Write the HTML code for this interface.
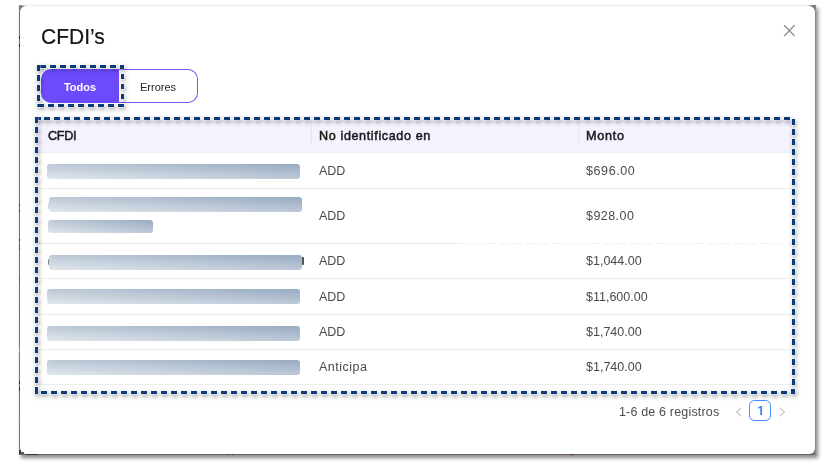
<!DOCTYPE html>
<html><head><meta charset="utf-8">
<style>
*{margin:0;padding:0;box-sizing:border-box}
html,body{width:824px;height:464px;background:#fff;overflow:hidden;position:relative;font-family:"Liberation Sans",Arial,sans-serif}
.abs{position:absolute}
.frame{position:absolute;left:19px;top:5px;width:797px;height:450px;background:#7a7a7a;border-left:1px solid #777;border-right:1px solid #888;border-bottom:1px solid #6b6667;box-shadow:2px 3px 4px rgba(0,0,0,.48)}
.topline{position:absolute;left:19px;top:5px;width:797px;height:1px;background:linear-gradient(90deg,#7a7a7a 0,#9a9a9a 2px,#d5d5d5 5px,#ececec 8px,#ececec 788px,#b0b0b0 791px,#808080 794px,#888 797px)}
.modal{position:absolute;left:20px;top:6px;width:795px;height:448px;background:#fff;border-radius:6px}
.title{position:absolute;left:41px;top:24px;font-size:21px;line-height:24px;color:#151515;-webkit-text-stroke:.2px #151515;white-space:nowrap;transform:scaleY(1.07);transform-origin:0 5px}
.close{position:absolute;left:783px;top:24px;width:13px;height:13px}
.tog{position:absolute;top:69px;height:34px;font-size:11px;line-height:36px;text-align:center}
.todos{left:41px;width:78px;background:#6d4bfd;border-radius:10px 0 0 10px;color:#fff;font-weight:700}
.errores{left:117px;width:81px;border:1.5px solid #7454fd;border-left:none;border-radius:0 10px 10px 0;color:#262626;line-height:34px;padding-left:2px}
.thead{position:absolute;left:38px;top:120px;width:754px;height:32px;background:#f3f2fd}
.th{position:absolute;top:129px;font-size:12.6px;font-weight:400;color:#1a1a1a;-webkit-text-stroke:.5px #1a1a1a;line-height:14px;white-space:nowrap}
.sep{position:absolute;top:124px;width:1px;height:20px;background:#e6e5f0}
.rl{position:absolute;left:38px;width:754px;height:1px;background:#ececec}
.bar{position:absolute;height:15px;border-radius:3px;background:linear-gradient(to top right,#e0e6ec 0%,#bdc9d7 50%,#97abc1 100%)}
.td{position:absolute;font-size:12.5px;color:#4a4a4a;line-height:14px;white-space:nowrap}
.pg{position:absolute;top:405px;font-size:12.5px;color:#4d4d4d;line-height:14px;white-space:nowrap}
.dash{position:absolute;left:0;top:0;filter:drop-shadow(1.5px 2px 2px rgba(0,0,0,.42))}
</style></head><body>
<div class="frame"></div>
<div class="topline"></div>
<div class="modal"></div>
<div class="abs" style="left:48px;top:203px;width:1px;height:6px;background:#d6d6d6"></div>
<div class="abs" style="left:47.5px;top:259px;width:1.5px;height:6px;background:#8a8a8a;border-radius:1px 0 0 1px"></div>
<div class="abs" style="left:302px;top:257px;width:1.6px;height:8px;background:#555;border-radius:0 1px 1px 0"></div>
<div class="abs" style="left:19px;top:36px;width:1px;height:3px;background:#222"></div>
<div class="abs" style="left:19px;top:44px;width:1px;height:3px;background:#222"></div>
<div class="abs" style="left:19px;top:204px;width:1px;height:2px;background:#333"></div>
<div class="abs" style="left:19px;top:210px;width:1px;height:2px;background:#333"></div>
<div class="abs" style="left:19px;top:239px;width:1px;height:2px;background:#333"></div>
<div class="abs" style="left:19px;top:245px;width:1px;height:2px;background:#2a5a6a"></div>
<div class="abs" style="left:19px;top:248px;width:1px;height:2px;background:#6a4a2a"></div>
<div class="abs" style="left:571px;top:454px;width:3px;height:1px;background:#8a1a1a"></div>
<div class="abs" style="left:19px;top:450px;width:2px;height:4px;background:#2b3f66"></div>
<div class="abs" style="left:21px;top:452px;width:3px;height:2px;background:#7a5a3a"></div>
<div class="abs" style="left:26px;top:454px;width:12px;height:1px;background:#3a2f3f"></div>
<div class="abs" style="left:19px;top:277px;width:1px;height:5px;background:#8a5a2a"></div>
<div class="abs" style="left:19px;top:308px;width:1px;height:9px;background:#4a78b0"></div>
<div class="abs" style="left:19px;top:347px;width:1px;height:6px;background:#7aa0c8"></div>
<div class="abs" style="left:19px;top:381px;width:1px;height:3px;background:#2a2a2a"></div>
<div class="abs" style="left:19px;top:384px;width:1px;height:3px;background:#a06a2a"></div>
<div class="abs" style="left:19px;top:387px;width:1px;height:4px;background:#2a2a5a"></div>
<div class="abs" style="left:19px;top:417px;width:1px;height:3px;background:#b07030"></div>
<div class="abs" style="left:227px;top:454px;width:2px;height:1px;background:#1f3f8a"></div>
<div class="abs" style="left:232px;top:454px;width:2px;height:1px;background:#8a1f3a"></div>
<div class="title">CFDI’s</div>
<svg class="close" viewBox="0 0 13 13"><path d="M1.2 1.2L11.6 12M11.6 1.2L1.2 12" stroke="#909090" stroke-width="1.35" fill="none"/></svg>

<div class="tog todos">Todos</div>
<div class="tog errores">Errores</div>

<div class="thead"></div>
<div class="th" style="left:48px;letter-spacing:-.3px">CFDI</div>
<div class="sep" style="left:311px"></div>
<div class="th" style="left:319px;letter-spacing:.62px">No identificado en</div>
<div class="sep" style="left:578px"></div>
<div class="th" style="left:586px;letter-spacing:.75px">Monto</div>

<div class="rl" style="top:152px;background:#eeeef2"></div>
<div class="rl" style="top:188px"></div>
<div class="rl" style="top:243px;width:423px"></div>
<div class="rl" style="top:243px;left:461px;width:331px;background:repeating-linear-gradient(90deg,#f2f2f2 0 9px,transparent 9px 13px)"></div>
<div class="rl" style="top:278px"></div>
<div class="rl" style="top:314px"></div>
<div class="rl" style="top:349px"></div>
<div class="rl" style="top:384px"></div>

<div class="bar" style="left:47px;top:164px;width:253px"></div>
<div class="bar" style="left:49px;top:197px;width:253px"></div>
<div class="bar" style="left:48px;top:220px;width:105px;height:13px"></div>
<div class="bar" style="left:49px;top:255px;width:253px"></div>
<div class="bar" style="left:47px;top:289px;width:253px"></div>
<div class="bar" style="left:47px;top:326px;width:253px"></div>
<div class="bar" style="left:47px;top:360px;width:253px"></div>

<div class="td" style="left:319px;top:164px">ADD</div>
<div class="td" style="left:319px;top:209px">ADD</div>
<div class="td" style="left:319px;top:254px">ADD</div>
<div class="td" style="left:319px;top:290px">ADD</div>
<div class="td" style="left:319px;top:325px">ADD</div>
<div class="td" style="left:319px;top:360px;letter-spacing:.5px">Anticipa</div>

<div class="td" style="left:586px;top:164px;letter-spacing:.6px">$696.00</div>
<div class="td" style="left:586px;top:209px;letter-spacing:.45px">$928.00</div>
<div class="td" style="left:586px;top:254px">$1,044.00</div>
<div class="td" style="left:586px;top:290px">$11,600.00</div>
<div class="td" style="left:586px;top:325px">$1,740.00</div>
<div class="td" style="left:586px;top:360px">$1,740.00</div>

<div class="pg" style="left:619px;letter-spacing:.17px">1-6 de 6 registros</div>
<svg class="abs" style="left:735px;top:406px" width="8" height="12" viewBox="0 0 8 12"><path d="M6.3 1.6L1.6 6L6.3 10.4" stroke="#c4c4c4" stroke-width="1.15" fill="none"/></svg>
<div class="abs" style="left:749px;top:400px;width:22px;height:21px;border:1.8px solid #3f8cff;border-radius:5.5px"></div><div class="abs" style="left:754.8px;top:402.7px;width:12px;height:16px;font-size:13px;font-weight:700;line-height:16px;text-align:center;color:#3b84fb;clip-path:polygon(0 0,100% 0,100% 10.4px,7.3px 10.4px,7.3px 100%,5.3px 100%,5.3px 10.4px,0 10.4px)">1</div>
<svg class="abs" style="left:778px;top:406px" width="8" height="12" viewBox="0 0 8 12"><path d="M1.7 1.6L6.4 6L1.7 10.4" stroke="#c4c4c4" stroke-width="1.15" fill="none"/></svg>

<svg class="dash" width="824" height="464" viewBox="0 0 824 464"><g fill="#0b3a78" stroke="#fff" stroke-width="0.6" paint-order="stroke"><rect x="35" y="117" width="6" height="3"/><rect x="44" y="117" width="6" height="3"/><rect x="54" y="117" width="6" height="3"/><rect x="64" y="117" width="6" height="3"/><rect x="74" y="117" width="6" height="3"/><rect x="84" y="117" width="6" height="3"/><rect x="94" y="117" width="6" height="3"/><rect x="104" y="117" width="6" height="3"/><rect x="114" y="117" width="6" height="3"/><rect x="124" y="117" width="6" height="3"/><rect x="134" y="117" width="6" height="3"/><rect x="144" y="117" width="6" height="3"/><rect x="154" y="117" width="6" height="3"/><rect x="164" y="117" width="6" height="3"/><rect x="174" y="117" width="6" height="3"/><rect x="184" y="117" width="6" height="3"/><rect x="194" y="117" width="6" height="3"/><rect x="204" y="117" width="6" height="3"/><rect x="214" y="117" width="6" height="3"/><rect x="224" y="117" width="6" height="3"/><rect x="234" y="117" width="6" height="3"/><rect x="244" y="117" width="6" height="3"/><rect x="254" y="117" width="6" height="3"/><rect x="264" y="117" width="6" height="3"/><rect x="274" y="117" width="6" height="3"/><rect x="284" y="117" width="6" height="3"/><rect x="294" y="117" width="6" height="3"/><rect x="304" y="117" width="6" height="3"/><rect x="314" y="117" width="6" height="3"/><rect x="324" y="117" width="6" height="3"/><rect x="334" y="117" width="6" height="3"/><rect x="344" y="117" width="6" height="3"/><rect x="354" y="117" width="6" height="3"/><rect x="364" y="117" width="6" height="3"/><rect x="374" y="117" width="6" height="3"/><rect x="384" y="117" width="6" height="3"/><rect x="394" y="117" width="6" height="3"/><rect x="404" y="117" width="6" height="3"/><rect x="414" y="117" width="6" height="3"/><rect x="424" y="117" width="6" height="3"/><rect x="434" y="117" width="6" height="3"/><rect x="444" y="117" width="6" height="3"/><rect x="454" y="117" width="6" height="3"/><rect x="464" y="117" width="6" height="3"/><rect x="474" y="117" width="6" height="3"/><rect x="484" y="117" width="6" height="3"/><rect x="494" y="117" width="6" height="3"/><rect x="504" y="117" width="6" height="3"/><rect x="514" y="117" width="6" height="3"/><rect x="524" y="117" width="6" height="3"/><rect x="534" y="117" width="6" height="3"/><rect x="544" y="117" width="6" height="3"/><rect x="554" y="117" width="6" height="3"/><rect x="564" y="117" width="6" height="3"/><rect x="574" y="117" width="6" height="3"/><rect x="584" y="117" width="6" height="3"/><rect x="594" y="117" width="6" height="3"/><rect x="604" y="117" width="6" height="3"/><rect x="614" y="117" width="6" height="3"/><rect x="624" y="117" width="6" height="3"/><rect x="634" y="117" width="6" height="3"/><rect x="644" y="117" width="6" height="3"/><rect x="654" y="117" width="6" height="3"/><rect x="664" y="117" width="6" height="3"/><rect x="674" y="117" width="6" height="3"/><rect x="684" y="117" width="6" height="3"/><rect x="694" y="117" width="6" height="3"/><rect x="704" y="117" width="6" height="3"/><rect x="714" y="117" width="6" height="3"/><rect x="724" y="117" width="6" height="3"/><rect x="734" y="117" width="6" height="3"/><rect x="744" y="117" width="6" height="3"/><rect x="754" y="117" width="6" height="3"/><rect x="764" y="117" width="6" height="3"/><rect x="774" y="117" width="6" height="3"/><rect x="784" y="117" width="6" height="3"/><rect x="35" y="117" width="3" height="6"/><rect x="35" y="127" width="3" height="6"/><rect x="35" y="137" width="3" height="6"/><rect x="35" y="147" width="3" height="6"/><rect x="35" y="157" width="3" height="6"/><rect x="35" y="167" width="3" height="6"/><rect x="35" y="177" width="3" height="6"/><rect x="35" y="187" width="3" height="6"/><rect x="35" y="197" width="3" height="6"/><rect x="35" y="207" width="3" height="6"/><rect x="35" y="217" width="3" height="6"/><rect x="35" y="227" width="3" height="6"/><rect x="35" y="237" width="3" height="6"/><rect x="35" y="247" width="3" height="6"/><rect x="35" y="257" width="3" height="6"/><rect x="35" y="267" width="3" height="6"/><rect x="35" y="277" width="3" height="6"/><rect x="35" y="287" width="3" height="6"/><rect x="35" y="297" width="3" height="6"/><rect x="35" y="307" width="3" height="6"/><rect x="35" y="317" width="3" height="6"/><rect x="35" y="327" width="3" height="6"/><rect x="35" y="337" width="3" height="6"/><rect x="35" y="347" width="3" height="6"/><rect x="35" y="357" width="3" height="6"/><rect x="35" y="367" width="3" height="6"/><rect x="35" y="377" width="3" height="6"/><rect x="35" y="387" width="3" height="6"/><rect x="792" y="119" width="3" height="6"/><rect x="792" y="129" width="3" height="6"/><rect x="792" y="139" width="3" height="6"/><rect x="792" y="149" width="3" height="6"/><rect x="792" y="159" width="3" height="6"/><rect x="792" y="169" width="3" height="6"/><rect x="792" y="179" width="3" height="6"/><rect x="792" y="189" width="3" height="6"/><rect x="792" y="199" width="3" height="6"/><rect x="792" y="209" width="3" height="6"/><rect x="792" y="219" width="3" height="6"/><rect x="792" y="229" width="3" height="6"/><rect x="792" y="239" width="3" height="6"/><rect x="792" y="249" width="3" height="6"/><rect x="792" y="259" width="3" height="6"/><rect x="792" y="269" width="3" height="6"/><rect x="792" y="279" width="3" height="6"/><rect x="792" y="289" width="3" height="6"/><rect x="792" y="299" width="3" height="6"/><rect x="792" y="309" width="3" height="6"/><rect x="792" y="319" width="3" height="6"/><rect x="792" y="329" width="3" height="6"/><rect x="792" y="339" width="3" height="6"/><rect x="792" y="349" width="3" height="6"/><rect x="792" y="359" width="3" height="6"/><rect x="792" y="369" width="3" height="6"/><rect x="792" y="379" width="3" height="6"/><rect x="41" y="391" width="6" height="3"/><rect x="51" y="391" width="6" height="3"/><rect x="61" y="391" width="6" height="3"/><rect x="71" y="391" width="6" height="3"/><rect x="81" y="391" width="6" height="3"/><rect x="91" y="391" width="6" height="3"/><rect x="101" y="391" width="6" height="3"/><rect x="111" y="391" width="6" height="3"/><rect x="121" y="391" width="6" height="3"/><rect x="131" y="391" width="6" height="3"/><rect x="141" y="391" width="6" height="3"/><rect x="151" y="391" width="6" height="3"/><rect x="161" y="391" width="6" height="3"/><rect x="171" y="391" width="6" height="3"/><rect x="181" y="391" width="6" height="3"/><rect x="191" y="391" width="6" height="3"/><rect x="201" y="391" width="6" height="3"/><rect x="211" y="391" width="6" height="3"/><rect x="221" y="391" width="6" height="3"/><rect x="231" y="391" width="6" height="3"/><rect x="241" y="391" width="6" height="3"/><rect x="251" y="391" width="6" height="3"/><rect x="261" y="391" width="6" height="3"/><rect x="271" y="391" width="6" height="3"/><rect x="281" y="391" width="6" height="3"/><rect x="291" y="391" width="6" height="3"/><rect x="301" y="391" width="6" height="3"/><rect x="311" y="391" width="6" height="3"/><rect x="321" y="391" width="6" height="3"/><rect x="331" y="391" width="6" height="3"/><rect x="341" y="391" width="6" height="3"/><rect x="351" y="391" width="6" height="3"/><rect x="361" y="391" width="6" height="3"/><rect x="371" y="391" width="6" height="3"/><rect x="381" y="391" width="6" height="3"/><rect x="391" y="391" width="6" height="3"/><rect x="401" y="391" width="6" height="3"/><rect x="411" y="391" width="6" height="3"/><rect x="421" y="391" width="6" height="3"/><rect x="431" y="391" width="6" height="3"/><rect x="441" y="391" width="6" height="3"/><rect x="451" y="391" width="6" height="3"/><rect x="461" y="391" width="6" height="3"/><rect x="471" y="391" width="6" height="3"/><rect x="481" y="391" width="6" height="3"/><rect x="491" y="391" width="6" height="3"/><rect x="501" y="391" width="6" height="3"/><rect x="511" y="391" width="6" height="3"/><rect x="521" y="391" width="6" height="3"/><rect x="531" y="391" width="6" height="3"/><rect x="541" y="391" width="6" height="3"/><rect x="551" y="391" width="6" height="3"/><rect x="561" y="391" width="6" height="3"/><rect x="571" y="391" width="6" height="3"/><rect x="581" y="391" width="6" height="3"/><rect x="591" y="391" width="6" height="3"/><rect x="601" y="391" width="6" height="3"/><rect x="611" y="391" width="6" height="3"/><rect x="621" y="391" width="6" height="3"/><rect x="631" y="391" width="6" height="3"/><rect x="641" y="391" width="6" height="3"/><rect x="651" y="391" width="6" height="3"/><rect x="661" y="391" width="6" height="3"/><rect x="671" y="391" width="6" height="3"/><rect x="681" y="391" width="6" height="3"/><rect x="691" y="391" width="6" height="3"/><rect x="701" y="391" width="6" height="3"/><rect x="711" y="391" width="6" height="3"/><rect x="721" y="391" width="6" height="3"/><rect x="731" y="391" width="6" height="3"/><rect x="741" y="391" width="6" height="3"/><rect x="751" y="391" width="6" height="3"/><rect x="761" y="391" width="6" height="3"/><rect x="771" y="391" width="6" height="3"/><rect x="781" y="391" width="6" height="3"/><rect x="791" y="389" width="4" height="5"/><rect x="35" y="387" width="3" height="7"/><rect x="37" y="65" width="9" height="3"/><rect x="50" y="65" width="6" height="3"/><rect x="60" y="65" width="6" height="3"/><rect x="70" y="65" width="6" height="3"/><rect x="80" y="65" width="6" height="3"/><rect x="90" y="65" width="6" height="3"/><rect x="100" y="65" width="6" height="3"/><rect x="110" y="65" width="6" height="3"/><rect x="120" y="65" width="4" height="4"/><rect x="37" y="65" width="3" height="6"/><rect x="37" y="75" width="3" height="6"/><rect x="37" y="85" width="3" height="6"/><rect x="37" y="95" width="3" height="6"/><rect x="37" y="104" width="3" height="3"/><rect x="121" y="74" width="3" height="5"/><rect x="121" y="84" width="3" height="5"/><rect x="121" y="94" width="3" height="5"/><rect x="121" y="104" width="3" height="3"/><rect x="38" y="104" width="6" height="3"/><rect x="48" y="104" width="6" height="3"/><rect x="58" y="104" width="6" height="3"/><rect x="68" y="104" width="6" height="3"/><rect x="78" y="104" width="6" height="3"/><rect x="88" y="104" width="6" height="3"/><rect x="98" y="104" width="6" height="3"/><rect x="108" y="104" width="6" height="3"/><rect x="118" y="104" width="6" height="3"/></g></svg>
</body></html>
